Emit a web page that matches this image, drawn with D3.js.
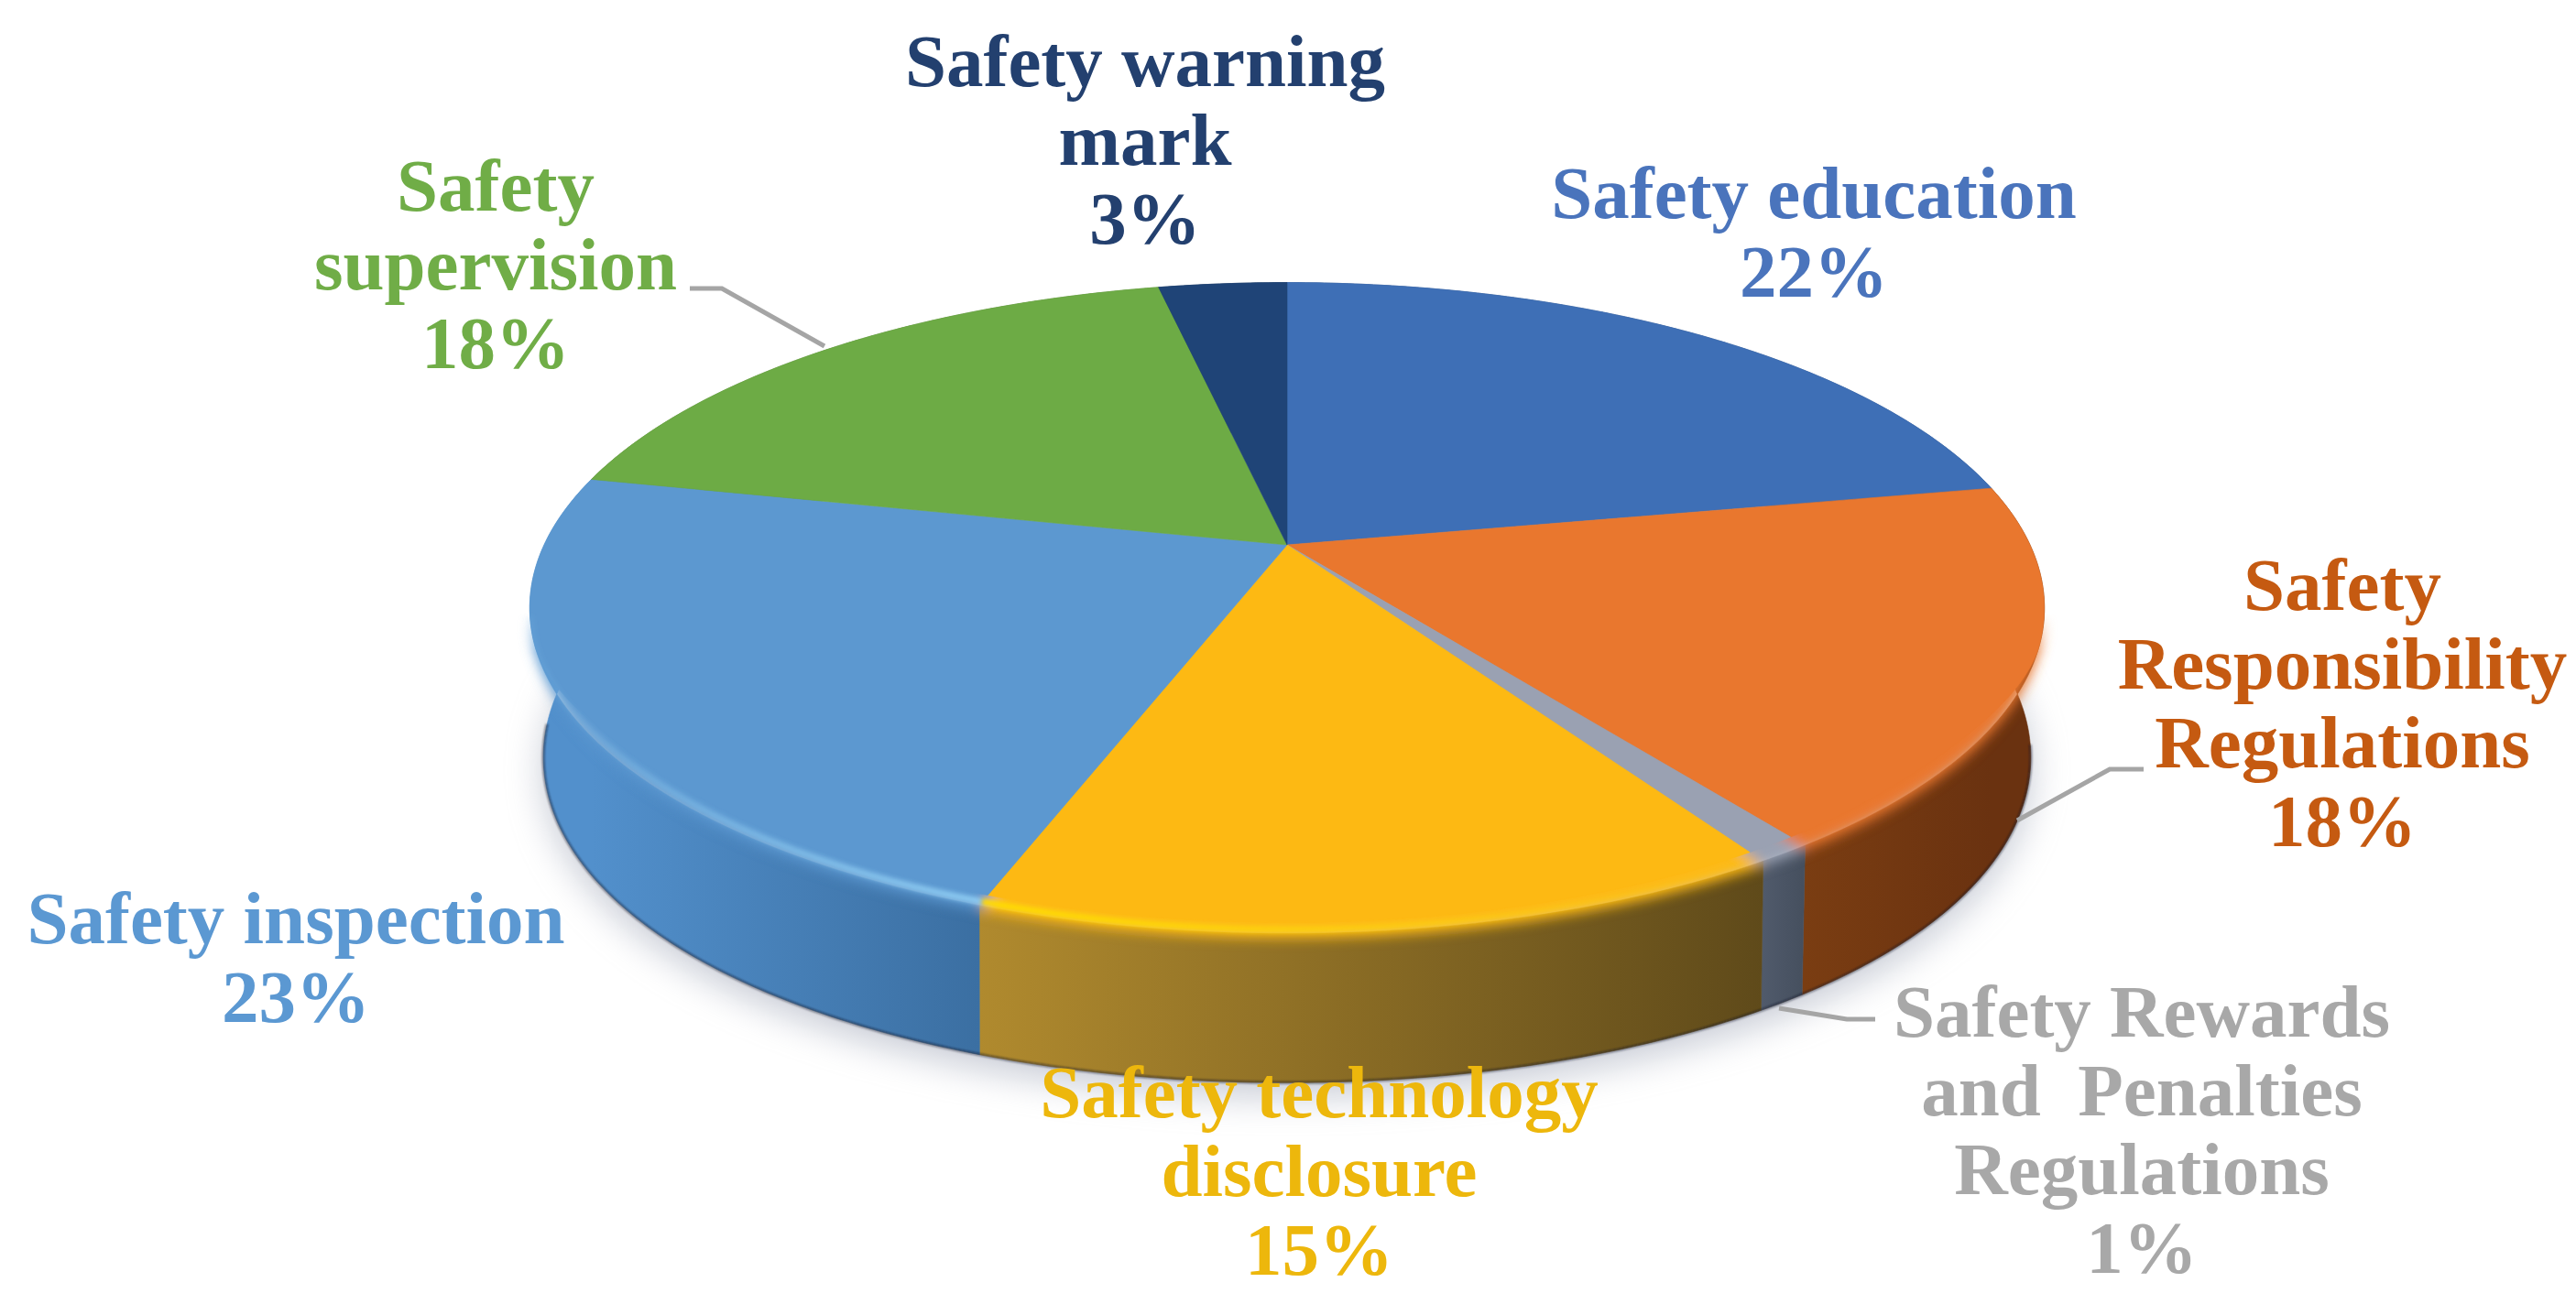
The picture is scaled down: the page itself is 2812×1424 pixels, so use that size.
<!DOCTYPE html>
<html><head><meta charset="utf-8">
<script src="https://cdnjs.cloudflare.com/ajax/libs/d3/7.8.5/d3.min.js"></script>
<style>html,body{margin:0;padding:0;background:#fff}svg{display:block}</style></head>
<body><svg id="c" width="2812" height="1424"></svg>
<script>
// ---- data ----
const categories = ["Safety education","Safety Responsibility Regulations","Safety Rewards and Penalties Regulations","Safety technology disclosure","Safety inspection","Safety supervision","Safety warning mark"];
const values = [22, 18, 1, 14.5, 23, 18.2, 3.3];
const labelLines = [["Safety education"],["Safety","Responsibility","Regulations"],["Safety Rewards","and  Penalties","Regulations"],["Safety technology","disclosure"],["Safety inspection"],["Safety","supervision"],["Safety warning","mark"]];
const topColors = ["#3E6FB6","#E9772E","#9AA1B2","#FDB913","#5C98D0","#6DAB45","#1F4477"];
const wallLeft = ["#2f5288","#7A3D12","#505A6B","#B08A2E","#5290CC","#527F33","#172f55"];
const wallRight = ["#2f5288","#6A3210","#454F5E","#5F4A1A","#3B6FA2","#527F33","#172f55"];
const textColors = ["#4A74BC","#C55A11","#A8A8A8","#EDB70C","#5B98D2","#70AD47","#23406F"];
// ---- layout ----
const labelX = [1980,2557,2338,1440,323,541,1250];
const labelY = [238,666,1132,1220,1030,230,94];
const lineH = 86;
const fontSize = 81;
const leaders = [[[753,315],[788,315],[900,378]],[[2340,840],[2303,840],[2202,896]],[[2047,1113],[2016,1113],[1942,1101]]];
const cx=1405, apexY=595, R=811, S=342, k=0.194, wallDepth=163, wallF=0.982;

const svg=d3.select("#c");
const defs=svg.append("defs");
const blur=(id,s)=>defs.append("filter").attr("id",id).attr("x","-20%").attr("y","-20%").attr("width","140%").attr("height","140%").append("feGaussianBlur").attr("stdDeviation",s);
blur("b20",20);blur("b7",7);blur("b2",2.5);blur("b1",1);
const mg=defs.append("linearGradient").attr("id","mg").attr("gradientUnits","userSpaceOnUse").attr("x1",0).attr("x2",0).attr("y1",670).attr("y2",712);
mg.append("stop").attr("offset",0).attr("stop-color","#000");
mg.append("stop").attr("offset",1).attr("stop-color","#fff");
defs.append("mask").attr("id","lower").attr("maskUnits","userSpaceOnUse").attr("x",0).attr("y",0).attr("width",2812).attr("height",1424)
  .append("rect").attr("width",2812).attr("height",1424).attr("fill","url(#mg)");

const arcs=d3.pie().sort(null).value(d=>d).startAngle(0).endAngle(2*Math.PI)(values);
function topPt(t,inset=0){const X=Math.sin(t),Y=-Math.cos(t),w=1-k*Y;
  const s=Math.max(0,Math.min(1,(Y-0.3)/0.4));
  const f=1-inset*s*s*(3-2*s);
  return [cx+R*X/w*f, apexY+S*Y/w*f];}
function botPt(t){const p=topPt(t);const d=Math.abs(p[0]-cx)/827;
  const f=1-(1-wallF)*Math.pow(d,3);
  return [cx+(p[0]-cx)*f, p[1]+wallDepth];}
function angles(a,b){const n=Math.max(2,Math.ceil((b-a)/0.01));return d3.range(n+1).map(i=>a+(b-a)*i/n);}
const pathLine=d3.line();

// shadow
const full=angles(0,2*Math.PI);
svg.append("path").attr("d",pathLine(full.map(botPt))+"Z").attr("transform","translate(0,14)")
  .attr("fill","#8f96aa").attr("opacity",0.5).attr("filter","url(#b20)");

// walls
arcs.forEach((a,i)=>{
  const as=angles(a.startAngle,a.endAngle);
  const gid="w"+i;
  const t0=topPt(a.startAngle)[0],t1=topPt(a.endAngle)[0];
  const g=defs.append("linearGradient").attr("id",gid).attr("gradientUnits","userSpaceOnUse")
    .attr("x1",Math.min(t0,t1)).attr("x2",Math.max(t0,t1)).attr("y1",0).attr("y2",0);
  g.append("stop").attr("offset",0).attr("stop-color",wallLeft[i]);
  g.append("stop").attr("offset",1).attr("stop-color",wallRight[i]);
  svg.append("path").attr("d",pathLine(as.map(t=>topPt(t)).concat(as.slice().reverse().map(botPt)))+"Z")
    .attr("fill",`url(#${gid})`).attr("stroke",`url(#${gid})`).attr("stroke-width",0.6);
});
// dark rim
svg.append("path").attr("d",pathLine(angles(Math.PI*0.55,Math.PI*1.47).map(botPt))).attr("fill","none")
  .attr("stroke","#141c28").attr("stroke-opacity",0.5).attr("stroke-width",3).attr("filter","url(#b1)");

function slicePath(a,inset){return pathLine([[cx,apexY]].concat(angles(a.startAngle,a.endAngle).map(t=>topPt(t,inset))))+"Z";}
// soft bevel
const soft=svg.append("g").attr("mask","url(#lower)").append("g").attr("filter","url(#b7)").attr("transform","translate(0,5)");
arcs.forEach((a,i)=>soft.append("path").attr("d",slicePath(a,0)).attr("fill",topColors[i]));
// crisp top
arcs.forEach((a,i)=>svg.append("path").attr("d",slicePath(a,0.028)).attr("fill",topColors[i]).attr("stroke",topColors[i]).attr("stroke-width",0.6));

// highlights
const hl=[{i:4,c:"#8CCBF2",from:0.1,to:1},{i:3,c:"#FFDC00",from:1,to:0}];
hl.forEach((h,n)=>{
  const a=arcs[h.i];
  const g=defs.append("linearGradient").attr("id","h"+n).attr("gradientUnits","objectBoundingBox");
  g.append("stop").attr("offset",0).attr("stop-color",h.c).attr("stop-opacity",h.from);
  g.append("stop").attr("offset",1).attr("stop-color",h.c).attr("stop-opacity",h.to);
  let s=a.startAngle,e=a.endAngle;
  if(h.i===4) e=Math.min(e,Math.PI*1.43);
  svg.append("path").attr("d",pathLine(angles(s,e).map(t=>topPt(t,0.01)))).attr("fill","none")
    .attr("stroke",`url(#h${n})`).attr("stroke-width",7).attr("filter","url(#b2)");
});

// leaders
leaders.forEach(l=>svg.append("path").attr("d",pathLine(l)).attr("fill","none").attr("stroke","#a5a5a5").attr("stroke-width",5));

// labels
const pct=d3.format(".0f");
arcs.forEach((a,i)=>{
  const t=svg.append("text").attr("text-anchor","middle").attr("fill",textColors[i])
    .attr("font-family","'Liberation Serif',serif").attr("font-weight","bold").attr("font-size",fontSize)
    .attr("xml:space","preserve");
  labelLines[i].concat([pct(values[i])+"%"]).forEach((s,j)=>
    t.append("tspan").attr("x",labelX[i]).attr("y",labelY[i]+j*lineH).text(s));
});
</script></body></html>
